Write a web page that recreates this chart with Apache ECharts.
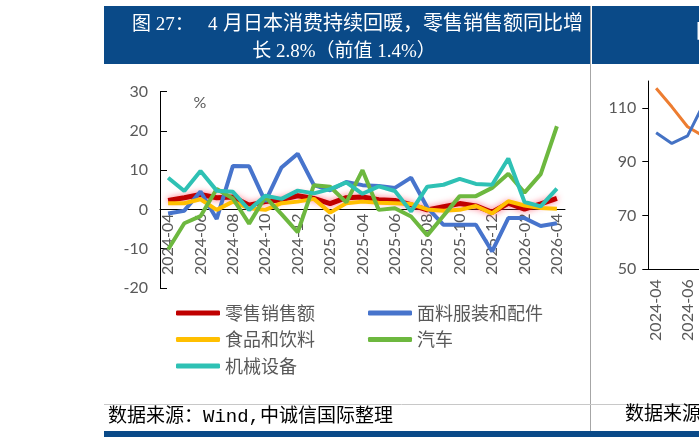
<!DOCTYPE html>
<html>
<head>
<meta charset="utf-8">
<script src="https://cdn.jsdelivr.net/npm/echarts@6/dist/echarts.min.js"></script>
<style>
  html, body { margin: 0; padding: 0; background: #fff; }
  #main { width: 699px; height: 437px; }
</style>
</head>
<body>
<div id="main"></div>
<script>
// 日本零售销售同比 %
const months = ['2024-04', '2024-05', '2024-06', '2024-07', '2024-08', '2024-09', '2024-10', '2024-11', '2024-12',
  '2025-01', '2025-02', '2025-03', '2025-04', '2025-05', '2025-06', '2025-07', '2025-08', '2025-09', '2025-10',
  '2025-11', '2025-12', '2026-01', '2026-02', '2026-03', '2026-04'];
const retailSales = [2.3, 3.0, 3.8, 3.0, 3.2, 1.1, 2.0, 2.5, 3.5, 2.8, 1.5, 3.0, 3.2, 2.5, 2.3, 1.2, -0.1, 0.7, 1.5, 0.9, -0.7, 1.6, 0.1, 1.4, 2.8];
const apparel = [-1.0, -0.3, 4.6, -2.4, 11.1, 11.0, 2.0, 10.7, 14.2, 6.2, 4.9, 7.0, 6.2, 6.0, 5.5, 8.1, 0.5, -3.9, -3.9, -3.9, -10.7, -2.2, -2.2, -4.2, -3.5];
const foodDrink = [1.6, 1.6, 2.6, -0.1, 2.0, 0.3, -0.1, 1.6, 2.0, 2.7, -0.8, 1.6, 2.0, 1.7, 1.6, 1.4, 0, -0.3, -0.1, 0.9, -1.0, 2.1, 1.0, 0.4, 0.2];
const autos = [-10.2, -3.5, -1.7, 5.2, 2.8, -3.6, 3.2, -1.2, -5.8, 6.2, 5.8, 1.8, 10.0, -0.1, 0.3, -1.8, -6.6, -1.6, 3.4, 3.4, 5.5, 9.1, 4.3, 9.0, 21.2];
const machinery = [8.1, 4.7, 9.8, 4.8, 4.5, -0.1, 3.5, 2.7, 4.8, 4.1, 5.2, 6.9, 4.0, 5.9, 4.7, -0.5, 5.8, 6.3, 7.8, 6.5, 6.3, 13.0, 1.9, 0.8, 5.3];
const pctTicks = { min: -20, max: 30, step: 10 };

// 右侧被截断的图，只露出前几个月
const rightOrange = [117.3, 110.4, 103.0, 99.5];
const rightBlue = [100.8, 96.8, 99.6, 111.2];
const rightTicks = { min: 50, max: 120, step: 20 };

const titleHead = '图 27：';
const titleNum = '4';
const titleRest = '月日本消费持续回暖，零售销售额同比增';
const titleLine2 = '长 2.8%（前值 1.4%）';
const sourceText = '数据来源：Wind,中诚信国际整理';

const NAVY = '#0a4a88';
const GREY = '#595959';
const axisFont = 'Lato, "Noto Sans CJK SC", sans-serif';
const titleFont = '"Liberation Serif", "Noto Sans CJK SC", serif';

// 左图坐标区：30 在 91.7px，0 在 209.5px
const gridTop = 91.7;
const gridHeight = 196.3;
const zeroOffset = -gridHeight * (0 - pctTicks.min) / (pctTicks.max - pctTicks.min);

const chart = echarts.init(document.getElementById('main'));

function lineSeries(name, data, color, extra) {
  return Object.assign({
    name: name,
    type: 'line',
    data: data,
    symbol: 'none',
    xAxisIndex: 0,
    yAxisIndex: 0,
    lineStyle: { width: 4, color: color },
    itemStyle: { color: color },
    emphasis: { disabled: true }
  }, extra || {});
}

const legendBase = {
  orient: 'vertical',
  icon: 'roundRect',
  padding: 0,
  itemWidth: 44,
  itemHeight: 5,
  itemGap: 8.5,
  top: 304,
  textStyle: { fontSize: 18, color: GREY, lineHeight: 18, fontFamily: '"Noto Sans CJK SC", sans-serif' },
  itemStyle: { shadowBlur: 0 }
};

const option = {
  animation: false,
  legend: [
    Object.assign({}, legendBase, { left: 176, data: ['零售销售额', '食品和饮料', '机械设备'] }),
    Object.assign({}, legendBase, { left: 368, data: ['面料服装和配件', '汽车'] })
  ],
  grid: [
    { left: 160, top: gridTop, width: 405, height: gridHeight, outerBoundsMode: 'none' },
    { left: 648.3, top: 81, width: 392.5, height: 188.3, outerBoundsMode: 'none' }
  ],
  xAxis: [
    {
      type: 'category',
      gridIndex: 0,
      data: months,
      boundaryGap: true,
      position: 'bottom',
      offset: zeroOffset,
      axisLine: { onZero: false, lineStyle: { color: '#000', width: 1 } },
      axisTick: { inside: true, length: 5, interval: 1, lineStyle: { color: '#000' } },
      axisLabel: { interval: 1, rotate: 90, margin: 4, fontSize: 16, color: GREY, fontFamily: axisFont }
    },
    {
      type: 'category',
      gridIndex: 1,
      data: months,
      boundaryGap: true,
      axisLine: { onZero: false, lineStyle: { color: '#000', width: 1 } },
      axisTick: { inside: true, length: 5, interval: 1, lineStyle: { color: '#000' } },
      axisLabel: { interval: 1, rotate: 90, margin: 10, fontSize: 16, color: GREY, fontFamily: axisFont }
    }
  ],
  yAxis: [
    {
      type: 'value',
      gridIndex: 0,
      min: pctTicks.min,
      max: pctTicks.max,
      interval: pctTicks.step,
      splitLine: { show: false },
      axisLine: { show: true, lineStyle: { color: '#000', width: 1 } },
      axisTick: { show: true, inside: true, length: 7, lineStyle: { color: '#000' } },
      axisLabel: { margin: 12, fontSize: 16, color: GREY, fontFamily: axisFont }
    },
    {
      type: 'value',
      gridIndex: 1,
      min: rightTicks.min,
      max: rightTicks.max,
      interval: rightTicks.step,
      splitLine: { show: false },
      axisLine: { show: true, onZero: false, lineStyle: { color: '#000', width: 1 } },
      axisTick: { show: true, length: 6, lineStyle: { color: '#000' } },
      axisLabel: { margin: 12, fontSize: 16, color: GREY, fontFamily: axisFont, showMaxLabel: false }
    }
  ],
  series: [
    lineSeries('零售销售额', retailSales, '#C00000', {
      lineStyle: { width: 5, color: '#C00000', shadowColor: 'rgba(255,90,110,0.85)', shadowBlur: 6 }
    }),
    lineSeries('面料服装和配件', apparel, '#4774CC'),
    lineSeries('食品和饮料', foodDrink, '#FFBF00'),
    lineSeries('汽车', autos, '#6DB83F'),
    lineSeries('机械设备', machinery, '#2EC1B4'),
    lineSeries('right-orange', rightOrange, '#ED7D31', { xAxisIndex: 1, yAxisIndex: 1, lineStyle: { width: 3, color: '#ED7D31' } }),
    lineSeries('right-blue', rightBlue, '#4472C4', { xAxisIndex: 1, yAxisIndex: 1, lineStyle: { width: 3, color: '#4472C4' } })
  ],
  graphic: [
    // 标题栏
    { type: 'rect', shape: { x: 104, y: 6, width: 486, height: 58 }, style: { fill: NAVY }, z: 0 },
    { type: 'rect', shape: { x: 592, y: 6, width: 107, height: 58 }, style: { fill: NAVY }, z: 0 },
    { type: 'text', x: 132, y: 25, style: { text: titleHead, fill: '#fff', font: '19px ' + titleFont, align: 'left', verticalAlign: 'middle' } },
    { type: 'text', x: 208, y: 25, style: { text: titleNum, fill: '#fff', font: '19px ' + titleFont, align: 'left', verticalAlign: 'middle' } },
    { type: 'text', x: 583, y: 25, style: { text: titleRest, fill: '#fff', font: '20px ' + titleFont, align: 'right', verticalAlign: 'middle' } },
    { type: 'text', x: 344, y: 52, style: { text: titleLine2, fill: '#fff', font: '19px ' + titleFont, align: 'center', verticalAlign: 'middle' } },
    { type: 'text', x: 696, y: 33, style: { text: '图', fill: '#fff', font: '19px ' + titleFont, align: 'left', verticalAlign: 'middle' } },
    // 分隔线
    { type: 'line', shape: { x1: 590.5, y1: 6, x2: 590.5, y2: 437 }, style: { stroke: '#a6a6a6', lineWidth: 1 } },
    { type: 'line', shape: { x1: 104, y1: 404.5, x2: 699, y2: 404.5 }, style: { stroke: '#c8c8c8', lineWidth: 1 } },
    { type: 'rect', shape: { x: 104, y: 431, width: 595, height: 6 }, style: { fill: NAVY } },
    // 单位与来源
    { type: 'text', x: 200, y: 103, style: { text: '%', fill: GREY, font: '16px ' + axisFont, align: 'center', verticalAlign: 'middle' } },
    { type: 'text', x: 108, y: 417, style: { text: sourceText, fill: '#000', font: '19px "Liberation Mono", "Noto Sans CJK SC", monospace', align: 'left', verticalAlign: 'middle' } },
    { type: 'text', x: 625, y: 415, style: { text: sourceText, fill: '#000', font: '19px "Liberation Mono", "Noto Sans CJK SC", monospace', align: 'left', verticalAlign: 'middle' } }
  ]
};

chart.setOption(option);
</script>
</body>
</html>
